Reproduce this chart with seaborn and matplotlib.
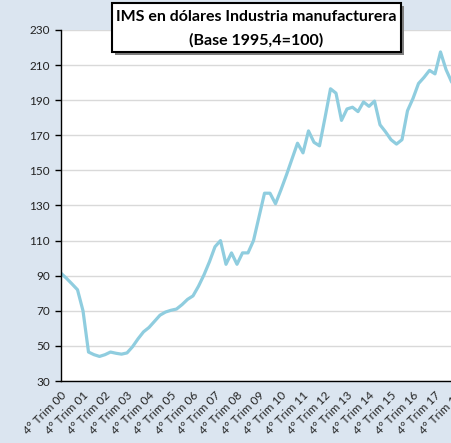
import matplotlib
matplotlib.use("Agg")
import matplotlib.pyplot as plt
import matplotlib.patches as patches
from matplotlib.ticker import FixedLocator
import numpy as np
import pandas as pd
import seaborn as sns

# quarterly index, starting at 4° Trim 00
ims_values = [
    91.4, 88.5, 85.3, 82.0, 70.0, 46.5, 45.0, 44.0, 45.0, 46.5,
    45.8, 45.3, 46.0, 49.5, 54.0, 58.0, 60.5, 64.0, 67.5, 69.3,
    70.3, 71.0, 73.5, 76.5, 78.5, 84.0, 90.5, 98.0, 106.5, 110.0,
    96.5, 103.0, 96.5, 103.0, 103.0, 110.0, 123.5, 137.0, 137.0, 131.0,
    139.0, 147.5, 156.5, 165.5, 160.0, 172.5, 166.0, 164.0, 180.0, 196.5,
    194.0, 178.5, 185.0, 186.0, 183.5, 189.0, 186.5, 189.5, 176.0, 172.0,
    167.5, 165.0, 167.5, 184.0, 191.0, 199.5, 203.0, 207.0, 205.0, 217.5,
    207.5, 200.5, 196.0,
]
year_labels = [f"4° Trim {y:02d}" for y in range(0, 19)]
y_ticks = list(range(30, 231, 20))

df = pd.DataFrame({"q": np.arange(len(ims_values)), "ims": ims_values})

sns.set_style("white")
plt.rcParams["font.family"] = ["Lato", "DejaVu Sans"]

W, H = 451, 443
fig = plt.figure(figsize=(W / 100, H / 100), dpi=100)
fig.patch.set_facecolor("#dbe5f0")

n_last = len(year_labels) * 4 - 4
left, right, top, bottom = 61, 61 + 5.5 * n_last, 30, 381
ax = fig.add_axes([left / W, 1 - bottom / H, (right - left) / W, (bottom - top) / H])
ax.set_facecolor("white")

sns.lineplot(data=df, x="q", y="ims", ax=ax, color="#8fcddf", linewidth=2.3)

ax.set_xlim(0, n_last)
ax.set_ylim(30, 230)
ax.set_yticks(y_ticks)
ax.set_yticklabels([str(v) for v in y_ticks], fontsize=8.5, color="#222222")
ax.yaxis.grid(True, color="#d9d9d9", linewidth=1)
ax.set_axisbelow(True)

ax.set_xticks(np.arange(0, n_last + 1, 4))
ax.set_xticklabels(year_labels, rotation=45, ha="right", rotation_mode="anchor",
                   fontsize=8.5, color="#222222")
ax.tick_params(axis="x", which="major", length=0, pad=6)
ax.xaxis.set_minor_locator(FixedLocator(np.arange(0, n_last + 1, 8)))
ax.tick_params(axis="x", which="minor", direction="in", length=4, width=1, color="black")
ax.tick_params(axis="y", which="major", direction="out", length=4, width=1,
               color="black", left=True, pad=4)

for s in ["top", "right"]:
    ax.spines[s].set_visible(False)
for s in ["left", "bottom"]:
    ax.spines[s].set_color("black")
    ax.spines[s].set_linewidth(1)
ax.set_xlabel("")
ax.set_ylabel("")

# title box with shadow
bx0, bx1, by0, by1 = 112, 401, 3, 52
shadow = patches.Rectangle(((bx0 + 3) / W, 1 - (by1 + 3) / H), (bx1 - bx0) / W, (by1 - by0) / H,
                           transform=fig.transFigure, facecolor="#7f7f7f", edgecolor="none", zorder=5)
box = patches.Rectangle((bx0 / W, 1 - by1 / H), (bx1 - bx0) / W, (by1 - by0) / H,
                        transform=fig.transFigure, facecolor="white", edgecolor="black",
                        linewidth=1.5, zorder=6)
fig.patches.extend([shadow, box])
cx = (bx0 + bx1) / 2 / W
fig.text(cx, 1 - 17 / H, "IMS en dólares Industria manufacturera", ha="center", va="center",
         fontsize=11.5, fontweight="bold", color="black", zorder=7)
fig.text(cx, 1 - 40 / H, "(Base 1995,4=100)", ha="center", va="center",
         fontsize=11.5, fontweight="bold", color="black", zorder=7)

fig.savefig("out.png", dpi=100, facecolor=fig.get_facecolor())
